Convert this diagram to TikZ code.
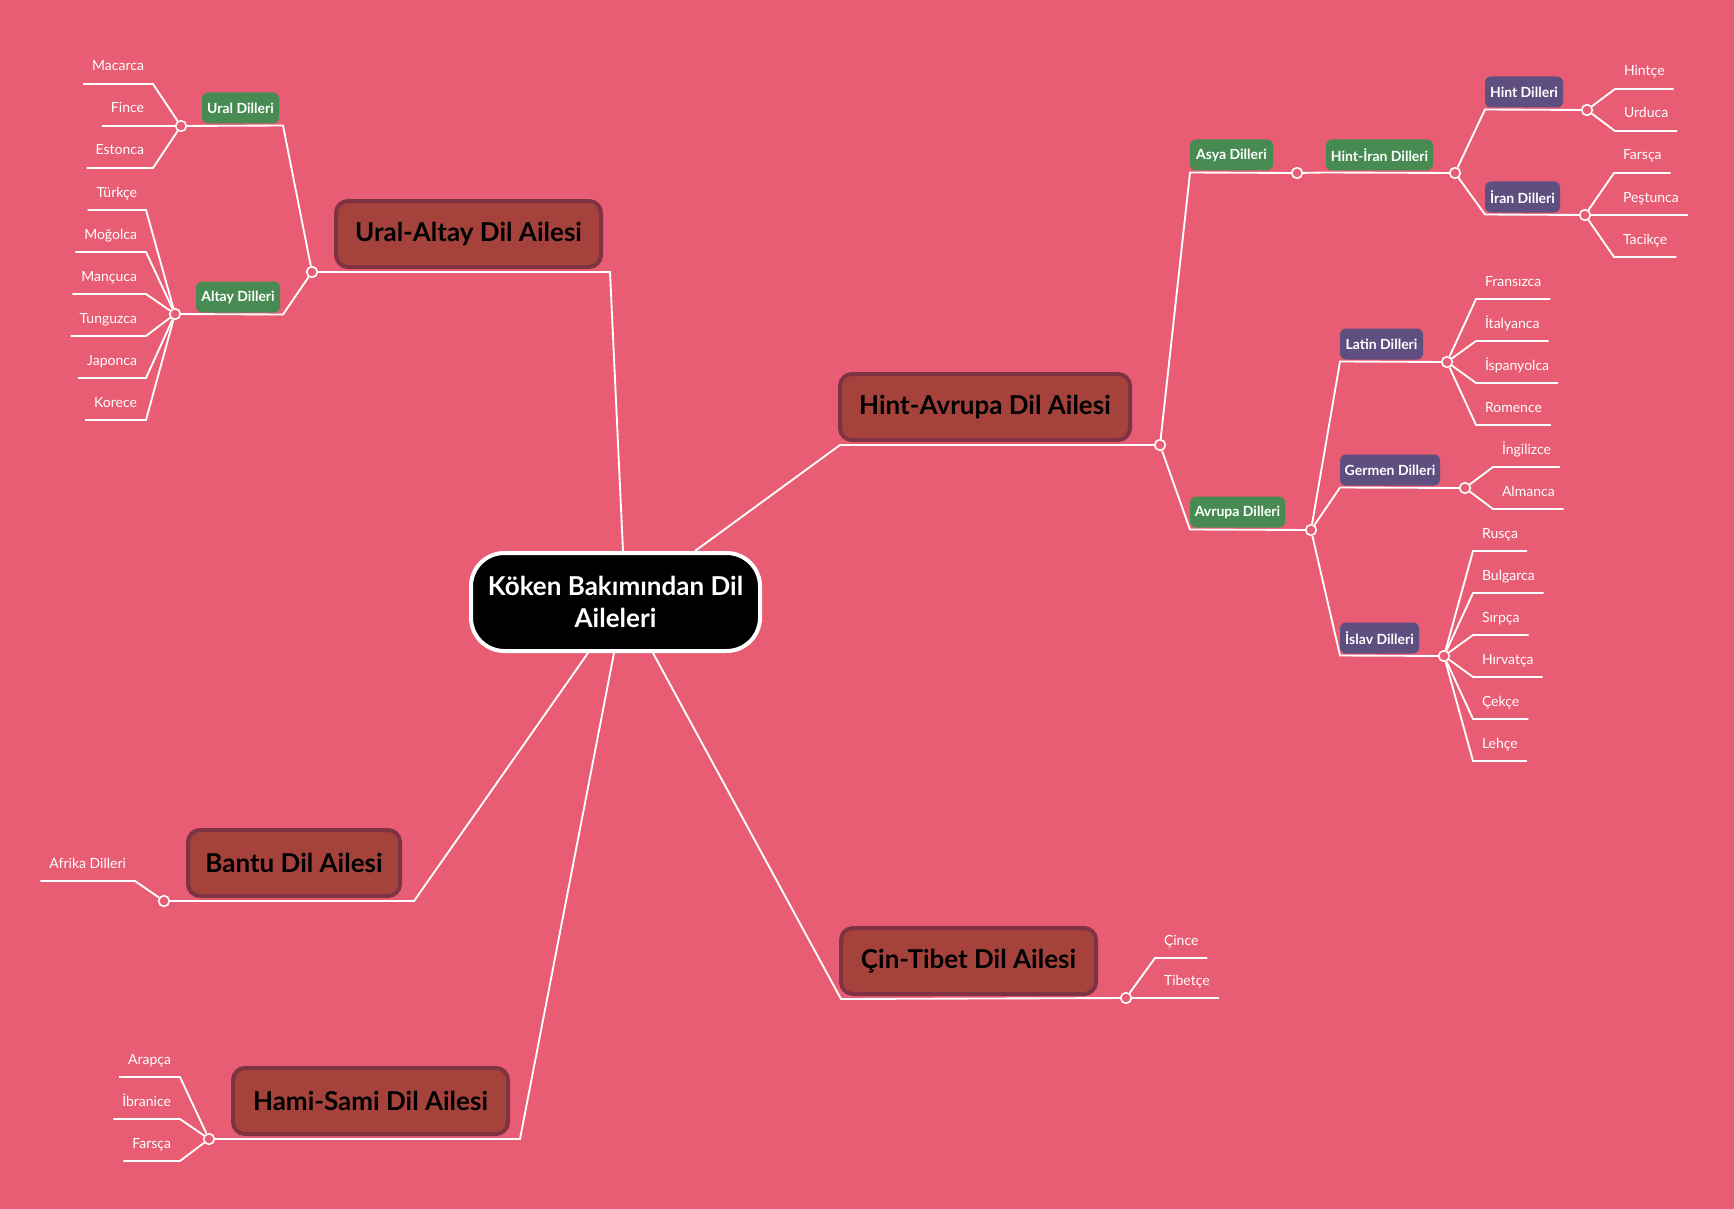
\documentclass[tikz,border=0pt]{standalone}
\usepackage{fontspec}
\setmainfont{Lato}
\usetikzlibrary{calc}

\definecolor{bgpink}{RGB}{232,93,115}
\definecolor{familyfill}{RGB}{165,66,60}
\definecolor{familyedge}{RGB}{126,50,66}
\definecolor{groupgreen}{RGB}{71,139,83}
\definecolor{grouppurple}{RGB}{94,79,128}

\tikzset{
    branch/.style={draw=white, line width=1.4pt},
    knot/.style={circle, draw=white, fill=bgpink, line width=1.2pt, minimum size=8pt, inner sep=0pt},
    root/.style={draw=white, fill=black, line width=3pt, rounded corners=25pt, minimum width=216.75pt, minimum height=73.5pt, align=center, text=white, font=\bfseries\fontsize{19.5}{24}\selectfont},
    family/.style={draw=familyedge, fill=familyfill, line width=3pt, rounded corners=9pt, minimum height=49.5pt, outer xsep=0pt, outer ysep=3.75pt, text=black, font=\bfseries\fontsize{19.5}{22}\selectfont},
    group/.style={rounded corners=4.5pt, minimum height=23.25pt, inner xsep=2pt, outer xsep=0pt, outer ysep=1.5pt, text=white, font=\bfseries\fontsize{10.5}{12}\selectfont},
    westgroup/.style={group, fill=groupgreen},
    subgroup/.style={group, fill=grouppurple},
    lang/.style={text=white, font=\fontsize{10.5}{13}\selectfont, inner xsep=6.75pt, inner ysep=9.75pt, text height=8pt, text depth=0pt, outer sep=0pt},
    langL/.style={lang, anchor=south east},
    langR/.style={lang, anchor=south west}
}

\begin{document}
\begin{tikzpicture}[x=0.75pt,y=-0.75pt]
                \fill[bgpink] (0,0) rectangle (1734,1209);
                \useasboundingbox (0,0) rectangle (1734,1209);

                \node[root] (root) at (615.5,602) {Köken Bakımından Dil\\Aileleri};

                \node[family, minimum width=198.75pt] (uralaltay) at (468.5,234) {Ural-Altay Dil Ailesi};
                \node[family, minimum width=217.5pt] (hintavrupa) at (985,407) {Hint-Avrupa Dil Ailesi};
                \node[family, minimum width=159pt] (bantu) at (294,863) {Bantu Dil Ailesi};
                \node[family, minimum width=206.25pt] (hamisami) at (370.5,1101) {Hami-Sami Dil Ailesi};
                \node[family, minimum width=191.25pt] (cintibet) at (968.5,961) {Çin-Tibet Dil Ailesi};

                \node[westgroup, minimum width=57.75pt] (ural) at (240.5,108) {Ural Dilleri};
                \node[westgroup, minimum width=63pt] (altay) at (238,297) {Altay Dilleri};
                \node[westgroup, minimum width=62.25pt] (asya) at (1231.5,155) {Asya Dilleri};
                \node[westgroup, minimum width=80.25pt] (hintiran) at (1379.5,155) {Hint-İran Dilleri};
                \node[westgroup, minimum width=71.25pt] (avrupa) at (1237.5,512) {Avrupa Dilleri};
                \node[subgroup, minimum width=58.5pt] (hint) at (1524,92) {Hint Dilleri};
                \node[subgroup, minimum width=56.25pt] (iran) at (1522.5,197) {İran Dilleri};
                \node[subgroup, minimum width=62.25pt] (latin) at (1381.5,344) {Latin Dilleri};
                \node[subgroup, minimum width=75pt] (germen) at (1390,470) {Germen Dilleri};
                \node[subgroup, minimum width=59.25pt] (islav) at (1379.5,638) {İslav Dilleri};

                \node[knot] (uak) at (312,272) {};
                \node[knot] (uralk) at (181,126) {};
                \node[knot] (altayk) at (175,314) {};
                \node[knot] (hak) at (1160,445) {};
                \node[knot] (asyak) at (1297,173) {};
                \node[knot] (hirank) at (1455,173) {};
                \node[knot] (hintk) at (1587,110) {};
                \node[knot] (irank) at (1585,215) {};
                \node[knot] (avrupak) at (1311,530) {};
                \node[knot] (latink) at (1447,362) {};
                \node[knot] (germenk) at (1465,488) {};
                \node[knot] (islavk) at (1444,656) {};
                \node[knot] (bantuk) at (164,901) {};
                \node[knot] (hamik) at (209,1139) {};
                \node[knot] (cink) at (1126,998) {};

                \draw[branch] ($(root.north)+(7.5,0)$) -- ($(uralaltay.south east)+(9,0)$) -- (uak);
                \draw[branch] (uak) -- ($(ural.south east)+(4,0)$) -- (uralk);
                \draw[branch] (uak) -- ($(altay.south east)+(3,0)$) -- (altayk);
                \draw[branch] ($(root.north)+(79.5,0)$) -- (hintavrupa.south west) -- (hak);
                \draw[branch] (hak) -- (asya.south west) -- (asyak);
                \draw[branch] (asyak) -- (hintiran.south west) -- (hirank);
                \draw[branch] (hirank) -- (hint.south west) -- (hintk);
                \draw[branch] (hirank) -- (iran.south west) -- (irank);
                \draw[branch] (hak) -- (avrupa.south west) -- (avrupak);
                \draw[branch] (avrupak) -- (latin.south west) -- (latink);
                \draw[branch] (avrupak) -- (germen.south west) -- (germenk);
                \draw[branch] (avrupak) -- (islav.south west) -- (islavk);
                \draw[branch] ($(root.south)+(-27.5,0)$) -- ($(bantu.south east)+(14,0)$) -- (bantuk);
                \draw[branch] ($(root.south)+(-1.5,0)$) -- ($(hamisami.south east)+(12,0)$) -- (hamik);
                \draw[branch] ($(root.south)+(37.5,0)$) -- (cintibet.south west) -- (cink);

                \node[langL] (macarca) at (153,84) {Macarca};
                \node[langL] (fince) at (153,126) {Fince};
                \node[langL] (estonca) at (153,168) {Estonca};
                \draw[branch] (uralk) -- (macarca.south east) -- (macarca.south west);
                \draw[branch] (uralk) -- (fince.south east) -- (fince.south west);
                \draw[branch] (uralk) -- (estonca.south east) -- (estonca.south west);

                \node[langL] (turkce) at (146,210) {Türkçe};
                \node[langL] (mogolca) at (146,252) {Moğolca};
                \node[langL] (mancuca) at (146,294) {Mançuca};
                \node[langL] (tunguzca) at (146,336) {Tunguzca};
                \node[langL] (japonca) at (146,378) {Japonca};
                \node[langL] (korece) at (146,420) {Korece};
                \draw[branch] (altayk) -- (turkce.south east) -- (turkce.south west);
                \draw[branch] (altayk) -- (mogolca.south east) -- (mogolca.south west);
                \draw[branch] (altayk) -- (mancuca.south east) -- (mancuca.south west);
                \draw[branch] (altayk) -- (tunguzca.south east) -- (tunguzca.south west);
                \draw[branch] (altayk) -- (japonca.south east) -- (japonca.south west);
                \draw[branch] (altayk) -- (korece.south east) -- (korece.south west);

                \node[langR] (hintce) at (1615,89) {Hintçe};
                \node[langR] (urduca) at (1615,131) {Urduca};
                \draw[branch] (hintk) -- (hintce.south west) -- (hintce.south east);
                \draw[branch] (hintk) -- (urduca.south west) -- (urduca.south east);

                \node[langR] (farscaI) at (1614,173) {Farsça};
                \node[langR] (pestunca) at (1614,215) {Peştunca};
                \node[langR] (tacikce) at (1614,257) {Tacikçe};
                \draw[branch] (irank) -- (farscaI.south west) -- (farscaI.south east);
                \draw[branch] (irank) -- (pestunca.south west) -- (pestunca.south east);
                \draw[branch] (irank) -- (tacikce.south west) -- (tacikce.south east);

                \node[langR] (fransizca) at (1476,299) {Fransızca};
                \node[langR] (italyanca) at (1476,341) {İtalyanca};
                \node[langR] (ispanyolca) at (1476,383) {İspanyolca};
                \node[langR] (romence) at (1476,425) {Romence};
                \draw[branch] (latink) -- (fransizca.south west) -- (fransizca.south east);
                \draw[branch] (latink) -- (italyanca.south west) -- (italyanca.south east);
                \draw[branch] (latink) -- (ispanyolca.south west) -- (ispanyolca.south east);
                \draw[branch] (latink) -- (romence.south west) -- (romence.south east);

                \node[langR] (ingilizce) at (1493,467) {İngilizce};
                \node[langR] (almanca) at (1493,509) {Almanca};
                \draw[branch] (germenk) -- (ingilizce.south west) -- (ingilizce.south east);
                \draw[branch] (germenk) -- (almanca.south west) -- (almanca.south east);

                \node[langR] (rusca) at (1473,551) {Rusça};
                \node[langR] (bulgarca) at (1473,593) {Bulgarca};
                \node[langR] (sirpca) at (1473,635) {Sırpça};
                \node[langR] (hirvatca) at (1473,677) {Hırvatça};
                \node[langR] (cekce) at (1473,719) {Çekçe};
                \node[langR] (lehce) at (1473,761) {Lehçe};
                \draw[branch] (islavk) -- (rusca.south west) -- (rusca.south east);
                \draw[branch] (islavk) -- (bulgarca.south west) -- (bulgarca.south east);
                \draw[branch] (islavk) -- (sirpca.south west) -- (sirpca.south east);
                \draw[branch] (islavk) -- (hirvatca.south west) -- (hirvatca.south east);
                \draw[branch] (islavk) -- (cekce.south west) -- (cekce.south east);
                \draw[branch] (islavk) -- (lehce.south west) -- (lehce.south east);

                \node[langR] (cince) at (1155,958) {Çince};
                \node[langR] (tibetce) at (1155,998) {Tibetçe};
                \draw[branch] (cink) -- (cince.south west) -- (cince.south east);
                \draw[branch] (cink) -- (tibetce.south west) -- (tibetce.south east);

                \node[langL] (afrika) at (135,881) {Afrika Dilleri};
                \draw[branch] (bantuk) -- (afrika.south east) -- (afrika.south west);

                \node[langL] (arapca) at (180,1077) {Arapça};
                \node[langL] (ibranice) at (180,1119) {İbranice};
                \node[langL] (farscaH) at (180,1161) {Farsça};
                \draw[branch] (hamik) -- (arapca.south east) -- (arapca.south west);
                \draw[branch] (hamik) -- (ibranice.south east) -- (ibranice.south west);
                \draw[branch] (hamik) -- (farscaH.south east) -- (farscaH.south west);
\end{tikzpicture}
\end{document}
